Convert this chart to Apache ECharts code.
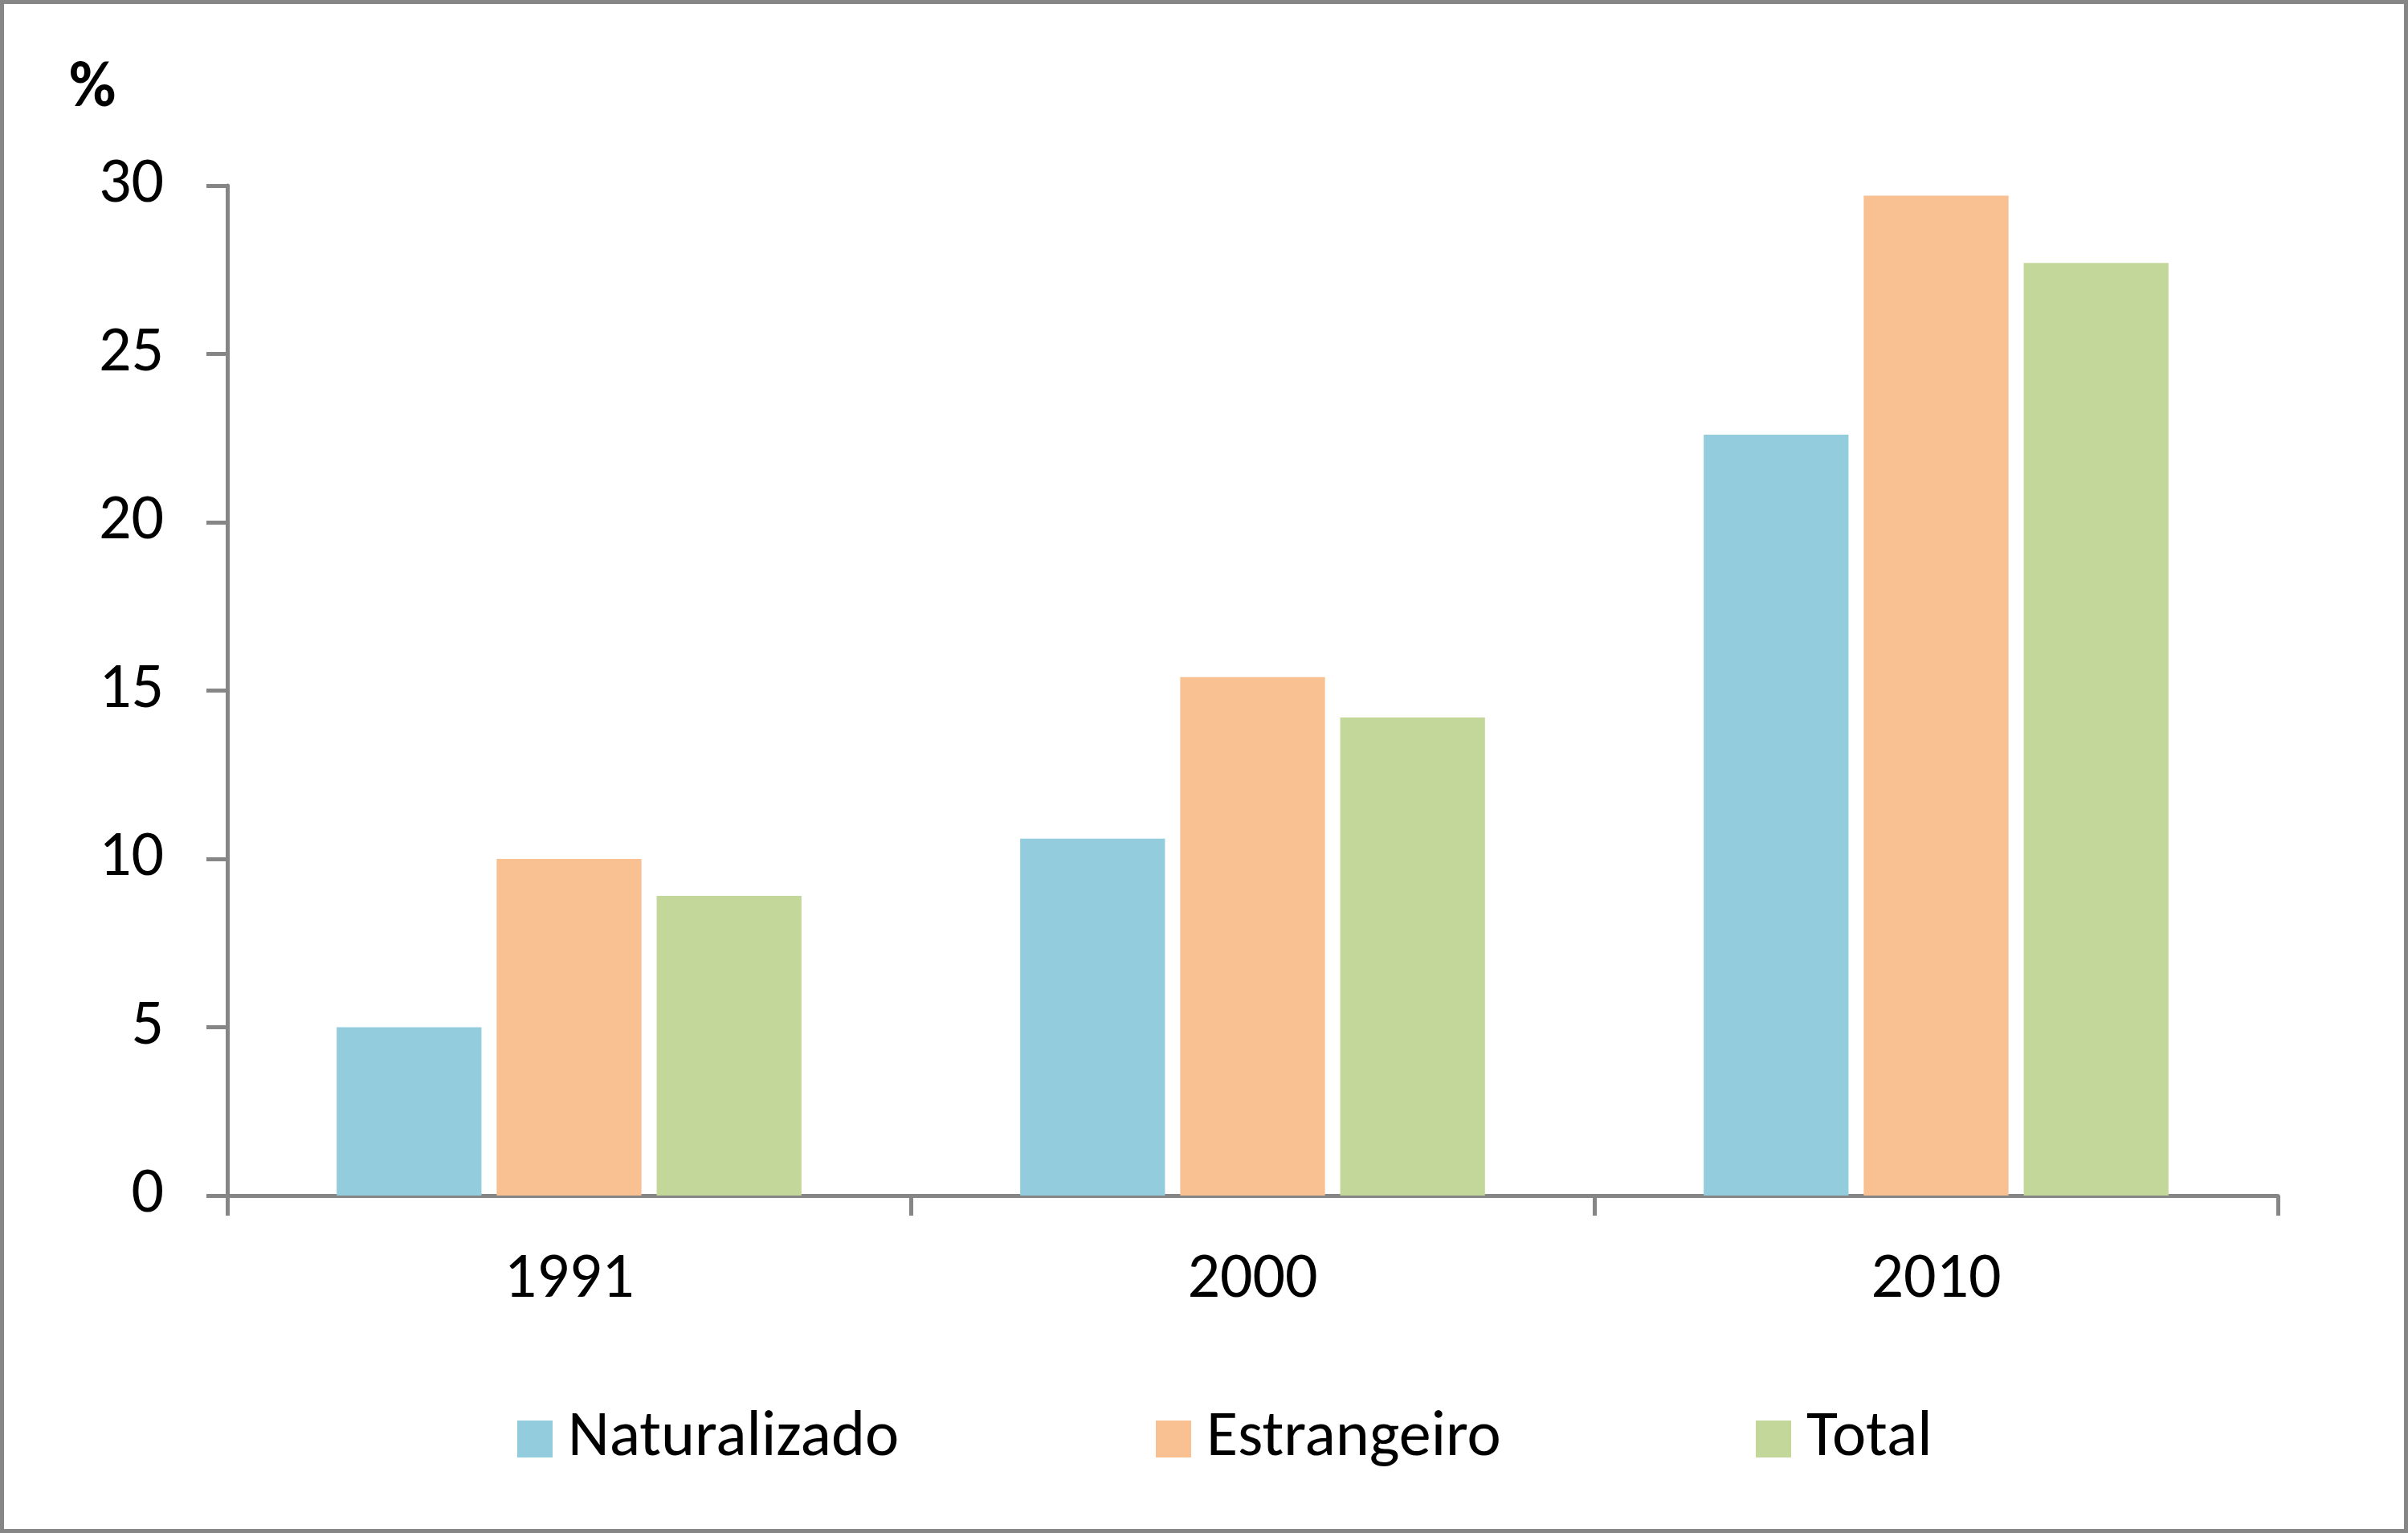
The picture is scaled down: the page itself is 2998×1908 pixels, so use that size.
<!DOCTYPE html>
<html><head><meta charset="utf-8">
<script src="https://cdn.jsdelivr.net/npm/echarts@6/dist/echarts.min.js"></script>
<style>html,body{margin:0;padding:0;background:#fff}#c{width:2998px;height:1908px}</style>
</head><body><div id="c"></div>
<script>
const categories = ['1991', '2000', '2010'];
const naturalizado = [5.0, 10.6, 22.6];
const estrangeiro = [10.0, 15.4, 29.7];
const total = [8.9, 14.2, 27.7];
const seriesNames = ['Naturalizado', 'Estrangeiro', 'Total'];
const yTicks = { min: 0, max: 30, interval: 5 };

const FONT = 'Carlito, Calibri, "Liberation Sans Narrow", "Open Sans", sans-serif';
const AX = '#868686';
const colors = ['#93CDDD', '#F9C091', '#C4D79B'];

const chart = echarts.init(document.getElementById('c'));
const legendLefts = [639, 1434, 2181];
chart.setOption({
  animation: false,
  backgroundColor: '#fff',
  textStyle: { fontFamily: FONT, color: '#000' },
  grid: { left: 283, right: 162, top: 231, bottom: 420, containLabel: false },
  legend: seriesNames.map((n, i) => ({
    data: [n], left: legendLefts[i], top: 1746,
    itemWidth: 44, itemHeight: 46, itemGap: 28,
    icon: 'rect',
    textStyle: { fontSize: 80, fontFamily: FONT, color: '#000', padding: [0, 0, 0, 14] }
  })),
  graphic: [
    { type: 'rect', shape: { x: 2.5, y: 2.5, width: 2993, height: 1903 },
      style: { fill: 'none', stroke: AX, lineWidth: 5 }, silent: true },
    { type: 'text', left: 86, top: 72,
      style: { text: '%', font: 'bold 80px ' + FONT, fill: '#000' } }
  ],
  xAxis: {
    type: 'category', data: categories, boundaryGap: true,
    axisLine: { lineStyle: { color: AX, width: 5 } },
    axisTick: { show: true, length: 25, lineStyle: { color: AX, width: 5 }, alignWithLabel: false },
    axisLabel: { fontSize: 80, color: '#000', margin: 66, fontFamily: FONT },
    splitLine: { show: false }
  },
  yAxis: {
    type: 'value', min: yTicks.min, max: yTicks.max, interval: yTicks.interval,
    axisLine: { show: true, lineStyle: { color: AX, width: 5 } },
    axisTick: { show: true, length: 26, lineStyle: { color: AX, width: 5 } },
    axisLabel: { fontSize: 80, color: '#000', margin: 79, fontFamily: FONT },
    splitLine: { show: false }
  },
  series: [naturalizado, estrangeiro, total].map((d, i) => ({
    name: seriesNames[i], type: 'bar', data: d,
    barGap: '10.5%', barCategoryGap: '32%',
    itemStyle: { color: colors[i] }
  }))
});
</script></body></html>
